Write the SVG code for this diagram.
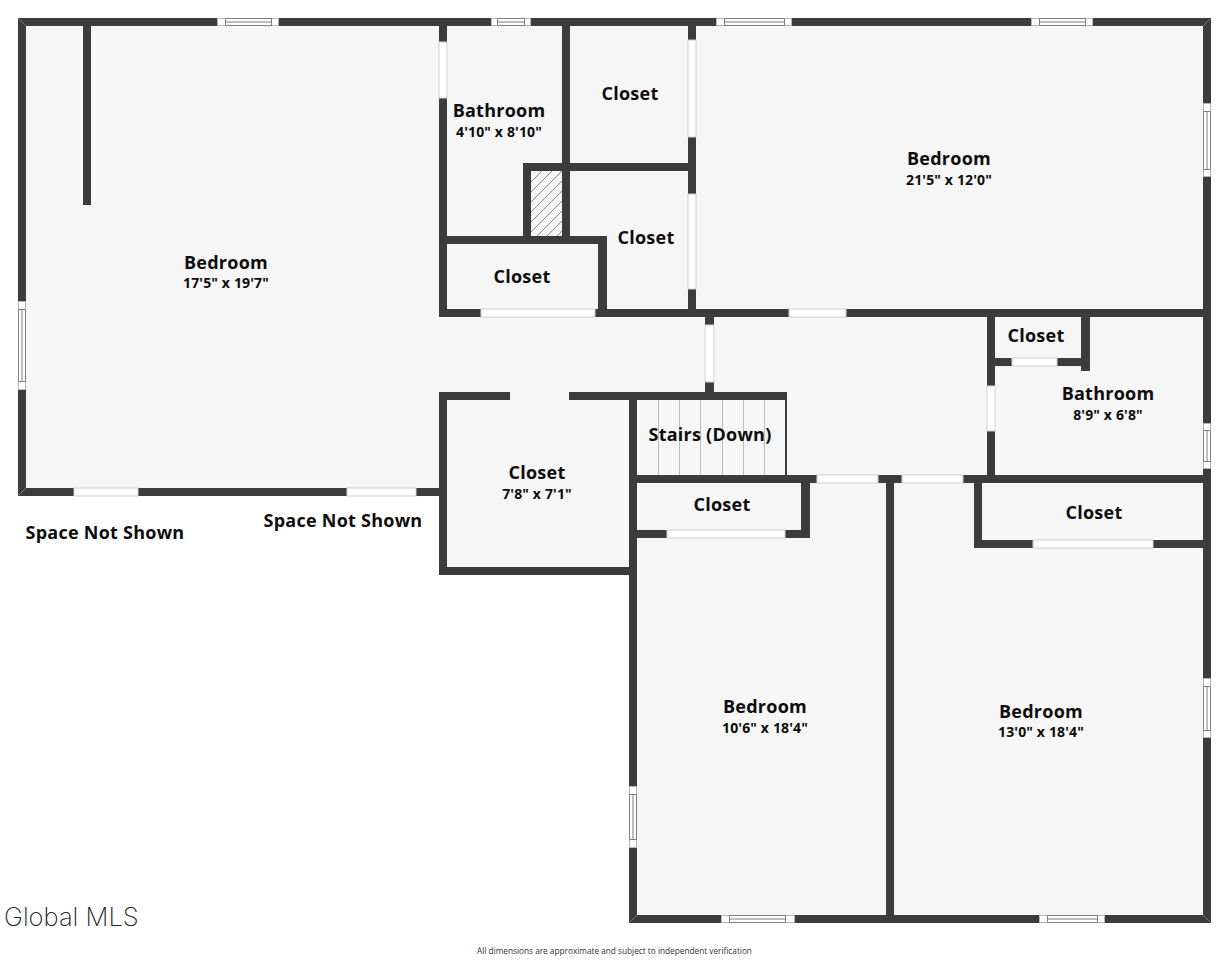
<svg xmlns="http://www.w3.org/2000/svg" width="1229" height="960" viewBox="0 0 1229 960">
<style>
.wall{fill:#3c3c3c}
.door{fill:#fff;stroke:#cfcfcf;stroke-width:1}
.win{fill:#fff;stroke:#b4b4b4;stroke-width:1}
.wl{fill:none;stroke:#7d7d7d;stroke-width:1}
.stair{stroke:#bdbdbd;stroke-width:1;fill:none}
.hatch{stroke:#8a8a8a;stroke-width:1;fill:none}
.miter{stroke:#777;stroke-width:1;fill:none}
.n{font-family:"Open Sans","Noto Sans",sans-serif;font-weight:700;font-size:18px;letter-spacing:.25px;fill:#0d0d0d;text-anchor:middle}
.d{font-family:"Open Sans","Noto Sans",sans-serif;font-weight:700;font-size:14px;letter-spacing:.15px;fill:#0d0d0d;text-anchor:middle}
</style>
<defs>
<clipPath id="hc"><rect x="531" y="171" width="31" height="65"/></clipPath>
</defs>
<rect width="1229" height="960" fill="#fff"/>
<path id="floor" d="M18 18H1211V923H629V575H439V496H18Z" fill="#f6f6f6"/>
<g id="stairs">
<path class="stair" d="M658.500 400V475M679.500 400V475M700.500 400V475M722.500 400V475M743.500 400V475M764.500 400V475"/>
<rect class="wall" x="785" y="400" width="2" height="75"/>
</g>
<g id="hatch" clip-path="url(#hc)">
<rect x="531" y="171" width="31" height="65" fill="#f6f6f6"/>
<path class="hatch" d="M531 182L542 171M531 192L552 171M531 202L562 171M531 212L562 181M531 222L562 191M531 232L562 201M535 238L562 211M545 238L562 221M555 238L562 231"/>
</g>
<g id="walls">
<rect class="wall" x="18" y="18" width="1193" height="8"/>
<rect class="wall" x="18" y="18" width="8" height="478"/>
<rect class="wall" x="18" y="488" width="422" height="8"/>
<rect class="wall" x="1203" y="18" width="8" height="905"/>
<rect class="wall" x="629" y="915" width="582" height="8"/>
<rect class="wall" x="629" y="392" width="8" height="531"/>
<rect class="wall" x="83" y="26" width="8" height="179"/>
<rect class="wall" x="439" y="18" width="8" height="299"/>
<rect class="wall" x="562" y="18" width="8" height="226"/>
<rect class="wall" x="688" y="18" width="8" height="299"/>
<rect class="wall" x="523" y="163" width="173" height="8"/>
<rect class="wall" x="523" y="163" width="8" height="81"/>
<rect class="wall" x="439" y="236" width="168" height="8"/>
<rect class="wall" x="598" y="236" width="9" height="81"/>
<rect class="wall" x="439" y="309" width="772" height="8"/>
<rect class="wall" x="705" y="309" width="9" height="91"/>
<rect class="wall" x="439" y="392" width="71" height="8"/>
<rect class="wall" x="569" y="392" width="218" height="8"/>
<rect class="wall" x="439" y="392" width="8" height="183"/>
<rect class="wall" x="439" y="567" width="198" height="8"/>
<rect class="wall" x="629" y="475" width="582" height="8"/>
<rect class="wall" x="801" y="475" width="9" height="63"/>
<rect class="wall" x="629" y="530" width="181" height="8"/>
<rect class="wall" x="886" y="475" width="8" height="448"/>
<rect class="wall" x="974" y="475" width="8" height="73"/>
<rect class="wall" x="974" y="540" width="237" height="8"/>
<rect class="wall" x="987" y="309" width="8" height="166"/>
<rect class="wall" x="1081" y="309" width="9" height="62"/>
<rect class="wall" x="987" y="358" width="98" height="8"/>
<path class="miter" d="M18.500 495.500L26 488M629.500 922.500L637 915M18.500 18.500L26 26M1210.500 18.500L1203 26M1210.500 922.500L1203 915"/>
</g>
<g id="doors">
<rect class="door" x="439" y="42" width="8" height="56"/>
<rect class="door" x="688" y="40" width="8" height="97"/>
<rect class="door" x="688" y="194" width="8" height="95"/>
<rect class="door" x="481" y="309" width="114" height="8"/>
<rect class="door" x="789" y="309" width="57" height="8"/>
<rect class="door" x="705" y="325" width="9" height="57"/>
<rect class="door" x="817" y="475" width="61" height="8"/>
<rect class="door" x="902" y="475" width="61" height="8"/>
<rect class="door" x="667" y="530" width="118" height="8"/>
<rect class="door" x="1033" y="540" width="120" height="8"/>
<rect class="door" x="987" y="386" width="8" height="45"/>
<rect class="door" x="1012" y="358" width="45" height="8"/>
<rect class="door" x="74" y="488" width="64" height="8"/>
<rect class="door" x="347" y="488" width="69" height="8"/>
</g>
<g id="windows">
<rect class="win" x="217.500" y="18.500" width="61" height="7"/><path class="wl" d="M225.500 18.500H271.500V25.500H225.500ZM225.500 22H271.500"/>
<rect class="win" x="491.500" y="18.500" width="39" height="7"/><path class="wl" d="M497.500 18.500H524.500V25.500H497.500ZM497.500 22H524.500"/>
<rect class="win" x="716.500" y="18.500" width="75" height="7"/><path class="wl" d="M724.500 18.500H784.500V25.500H724.500ZM724.500 22H784.500"/>
<rect class="win" x="1031.500" y="18.500" width="61" height="7"/><path class="wl" d="M1039.500 18.500H1085.500V25.500H1039.500ZM1039.500 22H1085.500"/>
<rect class="win" x="1203.500" y="103.500" width="7" height="73"/><path class="wl" d="M1203.500 111.500V169.500H1210.500V111.500ZM1207 111.500V169.500"/>
<rect class="win" x="1203.500" y="423.500" width="7" height="45"/><path class="wl" d="M1203.500 430.500V461.500H1210.500V430.500ZM1207 430.500V461.500"/>
<rect class="win" x="1203.500" y="678.500" width="7" height="59"/><path class="wl" d="M1203.500 686.500V730.500H1210.500V686.500ZM1207 686.500V730.500"/>
<rect class="win" x="18.500" y="301.500" width="7" height="88"/><path class="wl" d="M18.500 309.500V381.500H25.500V309.500ZM22 309.500V381.500"/>
<rect class="win" x="629.500" y="786.500" width="7" height="61"/><path class="wl" d="M629.500 794.500V839.500H636.500V794.500ZM633 794.500V839.500"/>
<rect class="win" x="721.500" y="915.500" width="73" height="7"/><path class="wl" d="M729.500 915.500H785.500V922.500H729.500ZM729.500 919H785.500"/>
<rect class="win" x="1039.500" y="915.500" width="65" height="7"/><path class="wl" d="M1047.500 915.500H1097.500V922.500H1047.500ZM1047.500 919H1097.500"/>
</g>
<g id="labels">
<text class="n" x="226" y="269">Bedroom</text><text class="d" x="226" y="288">17'5" x 19'7"</text>
<text class="n" x="499" y="117">Bathroom</text><text class="d" x="499" y="137">4'10" x 8'10"</text>
<text class="n" x="630" y="100">Closet</text>
<text class="n" x="646" y="244">Closet</text>
<text class="n" x="522" y="283">Closet</text>
<text class="n" x="949" y="165">Bedroom</text><text class="d" x="949" y="185">21'5" x 12'0"</text>
<text class="n" x="1036" y="342">Closet</text>
<text class="n" x="1108" y="400">Bathroom</text><text class="d" x="1108" y="420">8'9" x 6'8"</text>
<text class="n" x="710" y="441">Stairs (Down)</text>
<text class="n" x="537" y="479">Closet</text><text class="d" x="537" y="499">7'8" x 7'1"</text>
<text class="n" x="722" y="511">Closet</text>
<text class="n" x="1094" y="519">Closet</text>
<text class="n" x="765" y="713">Bedroom</text><text class="d" x="765" y="733">10'6" x 18'4"</text>
<text class="n" x="1041" y="718">Bedroom</text><text class="d" x="1041" y="737">13'0" x 18'4"</text>
<text class="n" x="105" y="539">Space Not Shown</text>
<text class="n" x="343" y="527">Space Not Shown</text>
<text x="4" y="926" font-family="Inter,'Liberation Sans',sans-serif" font-weight="200" font-size="25.500" fill="#222">Global MLS</text>
<text x="614.500" y="954" font-family="'Open Sans','Noto Sans',sans-serif" font-size="8.250" fill="#333" text-anchor="middle">All dimensions are approximate and subject to independent verification</text>
</g>
</svg>
